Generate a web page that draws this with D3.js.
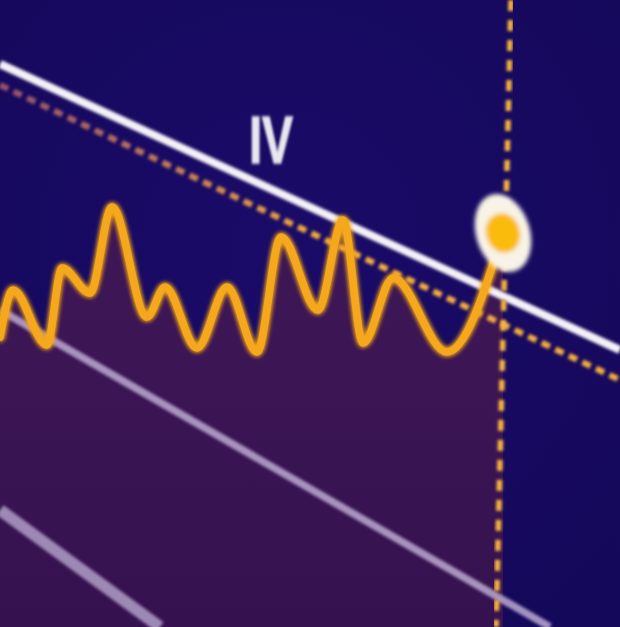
<!DOCTYPE html>
<html>
<head>
<meta charset="utf-8">
<script src="https://cdn.jsdelivr.net/npm/d3@7"></script>
<style>
  html, body { margin: 0; padding: 0; background: #170a60; overflow: hidden; }
  svg { display: block; }
</style>
</head>
<body>
<div id="chart"></div>
<script>
// wave readings (x in weeks, level)
const waveX = [0, 1.3, 4.7, 6.2, 9.0, 11.2, 14.7, 16.5, 19.7, 22.7, 25.7, 28.1, 31.8, 34.3, 36.3, 39.3, 44.7, 50.3];
const waveY = [29.0, 33.7, 28.2, 35.9, 33.4, 42.0, 31.0, 34.0, 27.9, 34.0, 27.5, 39.0, 31.7, 40.7, 28.4, 34.9, 27.5, 39.4];

// channel lines, endpoints [x, level]
const upperLine = [[0, 56.3], [62, 27.7]];
const dashedLine = [[0, 54.2], [62, 24.7]];
const lowerLine = [[0, 31.7], [55, 0]];
const bottomLine = [[0, 11.7], [16, 0]];
const nowLine = [[51.1, 62.7], [49.6, 0]];

// wave count label
const waveLabel = "IV";
const labelX = 27.1;
const labelY = 46.4;
const labelTick = [43.2, 38.5];

const width = 620, height = 627;

const x = d3.scaleLinear().domain([0, 62]).range([0, width]);
const y = d3.scaleLinear().domain([0, 62.7]).range([height, 0]);

const wave = waveX.map((d, i) => ({ x: d, v: waveY[i] }));
const last = wave[wave.length - 1];

const svg = d3.select("#chart").append("svg")
    .attr("width", width)
    .attr("height", height);

const defs = svg.append("defs");

let bg = defs.append("radialGradient").attr("id", "bg")
    .attr("cx", "45%").attr("cy", "40%").attr("r", "75%");
bg.append("stop").attr("offset", "0%").attr("stop-color", "#1a0b68");
bg.append("stop").attr("offset", "100%").attr("stop-color", "#14085a");

let fade = defs.append("linearGradient").attr("id", "fade")
    .attr("gradientUnits", "userSpaceOnUse")
    .attr("x1", 0).attr("x2", x(32)).attr("y1", 0).attr("y2", 0);
fade.append("stop").attr("offset", "0%").attr("stop-color", "#94506c");
fade.append("stop").attr("offset", "55%").attr("stop-color", "#c47c55");
fade.append("stop").attr("offset", "100%").attr("stop-color", "#f4ad3c");

let fill = defs.append("linearGradient").attr("id", "fill")
    .attr("x1", 0).attr("x2", 0).attr("y1", 0).attr("y2", 1);
fill.append("stop").attr("offset", "0%").attr("stop-color", "#3f1757");
fill.append("stop").attr("offset", "100%").attr("stop-color", "#35124f");

defs.append("filter").attr("id", "soft")
    .append("feGaussianBlur").attr("stdDeviation", 1.5);

defs.append("filter").attr("id", "softer")
    .attr("x", "-30%").attr("y", "-30%").attr("width", "160%").attr("height", "160%")
    .append("feGaussianBlur").attr("stdDeviation", 2.2);

let glow = defs.append("filter").attr("id", "glow")
    .attr("x", "-10%").attr("y", "-10%").attr("width", "120%").attr("height", "120%");
glow.append("feGaussianBlur").attr("in", "SourceGraphic").attr("stdDeviation", 2.6).attr("result", "b");
let merge = glow.append("feMerge");
merge.append("feMergeNode").attr("in", "b");
merge.append("feMergeNode").attr("in", "b");
merge.append("feMergeNode").attr("in", "SourceGraphic");

svg.append("rect")
    .attr("width", width).attr("height", height)
    .attr("fill", "url(#bg)");

/* area under the wave */
const area = d3.area()
    .x(d => x(d.x))
    .y0(y(0))
    .y1(d => y(d.v))
    .curve(d3.curveMonotoneX);

svg.append("path")
    .datum(wave)
    .attr("d", area)
    .attr("fill", "url(#fill)");

const seg = d3.line().x(d => x(d[0])).y(d => y(d[1]));

/* channel lines */
svg.append("path").datum(bottomLine).attr("d", seg)
    .attr("stroke", "#b09ec8").attr("stroke-width", 12).attr("opacity", 0.85)
    .attr("filter", "url(#soft)");

svg.append("path").datum(lowerLine).attr("d", seg)
    .attr("stroke", "#bcaad2").attr("stroke-width", 7.5).attr("opacity", 0.85)
    .attr("filter", "url(#soft)");

svg.append("path").datum(upperLine).attr("d", seg)
    .attr("stroke", "#f4f1f6").attr("stroke-width", 8)
    .attr("filter", "url(#soft)");

svg.append("path").datum(dashedLine).attr("d", seg)
    .attr("stroke", "url(#fade)").attr("stroke-width", 6)
    .attr("stroke-dasharray", "9 6")
    .attr("filter", "url(#soft)");

/* label tick */
svg.append("line")
    .attr("x1", x(labelX)).attr("x2", x(labelX))
    .attr("y1", y(labelTick[0])).attr("y2", y(labelTick[1]))
    .attr("stroke", "#a6a4d0").attr("stroke-width", 5)
    .attr("filter", "url(#soft)");

svg.append("text")
    .attr("transform", `translate(${x(labelX)}, ${y(labelY)}) scale(0.7, 1)`)
    .attr("text-anchor", "middle")
    .attr("font-family", "'Liberation Sans Narrow', 'Liberation Sans', sans-serif")
    .attr("font-weight", "bold")
    .attr("font-size", 66)
    .attr("fill", "#e8e6ee")
    .attr("stroke", "#e8e6ee")
    .attr("stroke-width", 1.5)
    .attr("filter", "url(#soft)")
    .text(waveLabel);

/* vertical now line */
svg.append("path").datum(nowLine).attr("d", seg)
    .attr("stroke", "#f6b43c").attr("stroke-width", 5.5)
    .attr("stroke-dasharray", "11 9")
    .attr("filter", "url(#soft)");

/* the wave */
const line = d3.line()
    .x(d => x(d.x))
    .y(d => y(d.v))
    .curve(d3.curveMonotoneX);

svg.append("path")
    .datum(wave)
    .attr("d", line)
    .attr("fill", "none")
    .attr("stroke", "#f6a81c")
    .attr("stroke-width", 7.5)
    .attr("stroke-linecap", "round")
    .attr("filter", "url(#glow)");

/* current point marker */
const marker = svg.append("g")
    .attr("transform", `translate(${x(last.x)}, ${y(last.v)}) rotate(-17)`)
    .attr("filter", "url(#softer)");

marker.append("ellipse")
    .attr("rx", 27).attr("ry", 40)
    .attr("fill", "#f8f3e6");

marker.append("ellipse")
    .attr("rx", 17).attr("ry", 20)
    .attr("fill", "#fbbb10");
</script>
</body>
</html>
